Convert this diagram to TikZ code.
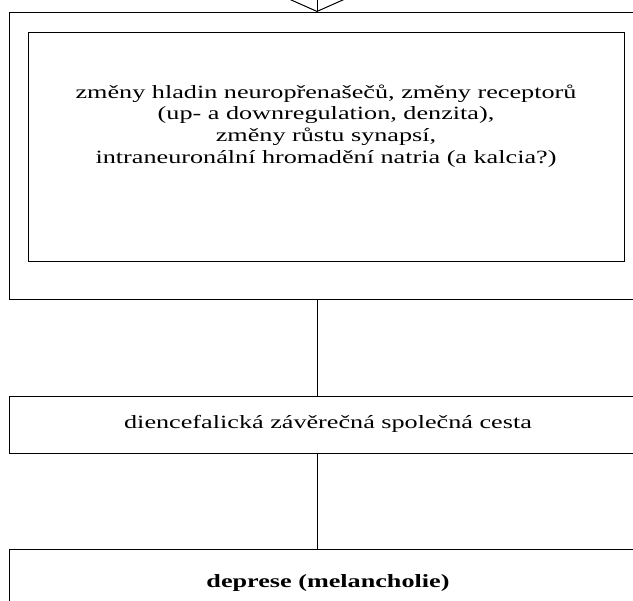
\documentclass[tikz,border=0pt]{standalone}
\usepackage{fontspec}
\setmainfont{Liberation Serif}[FakeStretch=1.4]
\usetikzlibrary{arrows.meta,positioning}

\begin{document}
\begin{tikzpicture}[x=1pt,y=1pt]
                    \tikzstyle{every node}+=[inner sep=0pt]
                    \tikzstyle{box}=[draw=black, line width=1.4pt, rectangle, anchor=north west]
                    \tikzstyle{txt}=[font=\fontsize{18.7}{21.7}\selectfont, align=center]
                    \tikzstyle{link}=[draw=black, line width=1pt]
                    \useasboundingbox (0,0) rectangle (633,-601);
                    \clip (0,0) rectangle (633,-601);
                    \node [box, minimum width=637.5pt, minimum height=287pt] (outer) at (8.5,-12) {};
                    \node [box, minimum width=596pt, minimum height=229pt] (inner) at (28,-32) {};
                    \node [txt] (chg) at (326,-126) {změny hladin neuropřenašečů, změny receptorů\\(up- a downregulation, denzita),\\změny růstu synapsí,\\intraneuronální hromadění natria (a kalcia?)};
                    \node [box, minimum width=637pt, minimum height=57pt] (cesta) at (9,-396) {};
                    \node [txt] (cestatxt) at (328,-424) {diencefalická závěrečná společná cesta};
                    \node [box, minimum width=637pt, minimum height=66pt] (depr) at (9,-549) {};
                    \node [txt, font=\fontsize{18.7}{21.7}\selectfont\bfseries] (deprtxt) at (328,-583) {deprese (melancholie)};
                    \coordinate (top) at (317,10);
                    \draw [link, -{Straight Barb[length=14pt, width=63pt, line width=1pt]}] (top) -- (top |- outer.north);
                    \draw [link] (top |- outer.south) -- (top |- cesta.north);
                    \draw [link] (top |- cesta.south) -- (top |- depr.north);
                \end{tikzpicture}
\end{document}
